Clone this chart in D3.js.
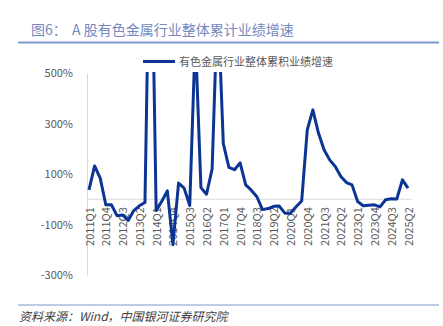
<!DOCTYPE html>
<html><head><meta charset="utf-8">
<script src="https://cdn.jsdelivr.net/npm/d3@7/dist/d3.min.js"></script>
<style>
body{margin:0;background:#fff;}
svg{display:block;font-family:"Noto Sans CJK SC","Noto Sans",sans-serif;}
</style></head>
<body>
<svg id="c" width="443" height="326"></svg>
<script>
const quarters = [];
for (let y = 2011; y <= 2025; y++) for (let q = 1; q <= 4; q++) { if (y === 2025 && q > 2) break; quarters.push(y + "Q" + q); }
const growth = [
  37, 132, 84, -22, -22, -65, -62, -84, -45, -26, -13,
  1300, -45, -8, 33, -180, 64, 44, -25, 650, 46, 20, 120, 800,
  220, 126, 117, 144, 57, 36, 10, -41, -37, -28, -27, -55, -55, -30, -7,
  275, 354, 262, 196, 156, 130, 90, 66, 57, -9, -26, -24, -22, -30, -2, 2, 1, 77, 44
];
const tickLabels = quarters.filter((d, i) => i % 3 === 0);
const yTicks = [-300, -100, 100, 300, 500];
const seriesName = "有色金属行业整体累积业绩增速";
const title1 = "图6：", title2 = "A 股有色金属行业整体累计业绩增速";
const source = "资料来源：Wind，中国银河证券研究院";

const svg = d3.select("#c");
const x = d3.scalePoint().domain(quarters).range([89, 408]);
const y = d3.scaleLinear().domain([-300, 500]).range([275, 73]);

// title
svg.append("text").attr("x", 31).attr("y", 35).attr("font-size", 14).attr("fill", "#7489bf").text(title1);
svg.append("text").attr("x", 72).attr("y", 35).attr("font-size", 14).attr("fill", "#7489bf").text(title2);
svg.append("line").attr("x1", 18).attr("x2", 439).attr("y1", 42.5).attr("y2", 42.5).attr("stroke", "#7f98cf").attr("stroke-width", 2);

// y axis
const yAxis = d3.axisLeft(y).tickValues(yTicks).tickFormat(d => d + "%").tickSize(0).tickPadding(14);
const ga = svg.append("g").attr("transform", "translate(87,0)").call(yAxis);
ga.select(".domain").attr("stroke", "#d9d9d9");
ga.selectAll("text").attr("font-size", 11).attr("fill", "#595959").attr("font-family", "\"Noto Sans CJK SC\",sans-serif");

// zero line + x labels
const xAxis = d3.axisBottom(x).tickValues(tickLabels).tickSize(0).tickPadding(0);
const gx = svg.append("g").attr("transform", `translate(0,${y(0)})`).call(xAxis);
gx.select(".domain").remove();
svg.append("line").attr("x1", 87).attr("x2", 412).attr("y1", y(0)).attr("y2", y(0)).attr("stroke", "#d9d9d9").attr("stroke-width", 1.2);
gx.selectAll("text")
  .attr("font-size", 11).attr("fill", "#595959").attr("font-family", "\"Noto Sans CJK SC\",sans-serif")
  .attr("text-anchor", "end").attr("dy", null).attr("y", 0)
  .attr("transform", "translate(4,8) rotate(-90)");

// clip
svg.append("clipPath").attr("id", "clip").append("rect").attr("x", 80).attr("y", 72).attr("width", 350).attr("height", 220);

const line = d3.line().x((d, i) => x(quarters[i])).y(d => y(d));
svg.append("path").datum(growth).attr("clip-path", "url(#clip)")
  .attr("fill", "none").attr("stroke", "#0c3494").attr("stroke-width", 3).attr("stroke-linejoin", "round")
  .attr("d", line);

// legend
svg.append("line").attr("x1", 143).attr("x2", 175).attr("y1", 61.5).attr("y2", 61.5).attr("stroke", "#0c3494").attr("stroke-width", 3);
svg.append("text").attr("x", 179).attr("y", 65.5).attr("font-size", 11).attr("fill", "#595959").text(seriesName);

// footer
svg.append("line").attr("x1", 18).attr("x2", 439).attr("y1", 305).attr("y2", 305).attr("stroke", "#7f98cf").attr("stroke-width", 1.2);
svg.append("text").attr("x", 19).attr("y", 321).attr("font-size", 12).attr("font-style", "italic").attr("fill", "#404040").text(source);
</script>
</body></html>
